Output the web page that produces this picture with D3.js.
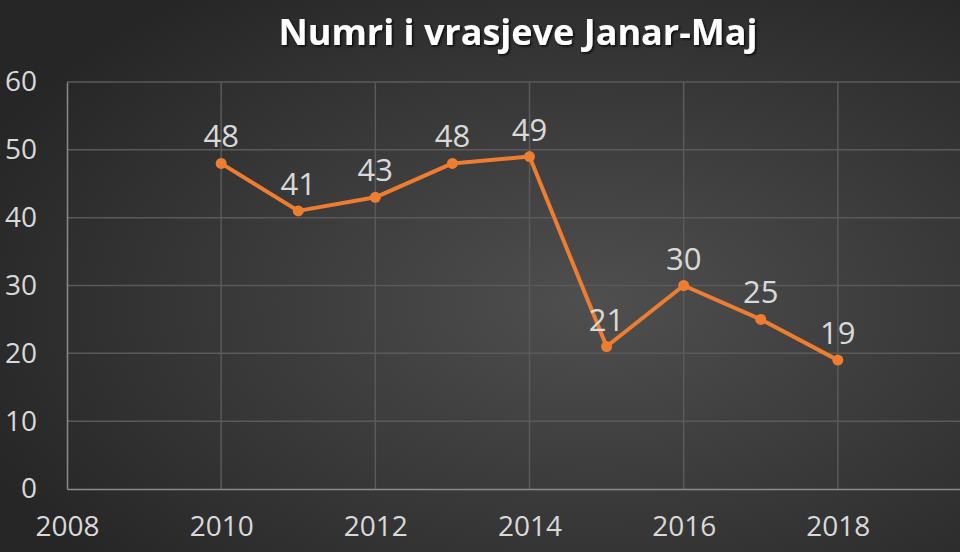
<!DOCTYPE html>
<html>
<head>
<meta charset="utf-8">
<script src="https://cdn.jsdelivr.net/npm/d3@7"></script>
<style>
  body { margin: 0; background: #2b2b2b; }
  svg { display: block; }
</style>
</head>
<body>
<div id="vis"></div>
<script>
// Datos
const years = [2010, 2011, 2012, 2013, 2014, 2015, 2016, 2017, 2018];
const killings = [48, 41, 43, 48, 49, 21, 30, 25, 19];
const xTicks = [2008, 2010, 2012, 2014, 2016, 2018];
const yTicks = [0, 10, 20, 30, 40, 50, 60];
const title = "Numri i vrasjeve Janar-Maj";

const WIDTH = 960;
const HEIGHT = 552;
const margins = { left: 67, top: 82, bottom: 63 };

const SVG = d3.select("#vis")
  .append("svg")
  .attr("width", WIDTH)
  .attr("height", HEIGHT);

// Fondo con degradado radial
const defs = SVG.append("defs");
const grad = defs.append("radialGradient")
  .attr("id", "bg")
  .attr("cx", "62%").attr("cy", "55%").attr("r", "70%");
grad.append("stop").attr("offset", "0%").attr("stop-color", "#4f4f4f");
grad.append("stop").attr("offset", "100%").attr("stop-color", "#262626");

const shadow = defs.append("filter").attr("id", "shadow");
shadow.append("feDropShadow")
  .attr("dx", 1.5).attr("dy", 1.5).attr("stdDeviation", 1.2)
  .attr("flood-color", "#000").attr("flood-opacity", 0.8);

SVG.append("rect")
  .attr("width", WIDTH).attr("height", HEIGHT)
  .attr("fill", "url(#bg)");

// Escalas (el dominio llega a 2020, el gráfico se corta en el borde)
const x = d3.scaleLinear().domain([2008, 2020]).range([margins.left, 992]);
const y = d3.scaleLinear().domain([0, 60]).range([HEIGHT - margins.bottom, margins.top]);

// Grilla
const grid = SVG.append("g");
grid.selectAll(".hgrid")
  .data(yTicks.filter(d => d > 0))
  .join("line")
  .attr("x1", margins.left).attr("x2", WIDTH)
  .attr("y1", d => y(d)).attr("y2", d => y(d))
  .attr("stroke", "#5a5a5a").attr("stroke-width", 1.5);
grid.selectAll(".vgrid")
  .data(xTicks.filter(d => d > 2008))
  .join("line")
  .attr("x1", d => x(d)).attr("x2", d => x(d))
  .attr("y1", y(60)).attr("y2", y(0))
  .attr("stroke", "#5a5a5a").attr("stroke-width", 1.5);

// Ejes
const ejeX = d3.axisBottom(x).tickValues(xTicks).tickFormat(d3.format("d")).tickSize(0).tickPadding(27);
const ejeY = d3.axisLeft(y).tickValues(yTicks).tickSize(0).tickPadding(30);

SVG.append("g")
  .attr("id", "ejeX")
  .attr("transform", `translate(0,${y(0)})`)
  .call(ejeX);
SVG.append("g")
  .attr("id", "ejeY")
  .attr("transform", `translate(${margins.left},0)`)
  .call(ejeY);

SVG.selectAll("#ejeX path, #ejeY path")
  .attr("stroke", "#8a8a8a").attr("stroke-width", 1.5);
SVG.selectAll("#ejeX text, #ejeY text")
  .attr("fill", "#d9d9d9")
  .attr("font-family", "Open Sans")
  .attr("font-size", 28);

// Línea
const line = d3.line()
  .x((d, i) => x(years[i]))
  .y(d => y(d));

SVG.append("path")
  .datum(killings)
  .attr("d", line)
  .attr("fill", "none")
  .attr("stroke", "#ed7d31")
  .attr("stroke-width", 4)
  .attr("stroke-linejoin", "round");

SVG.append("g")
  .selectAll("circle")
  .data(killings)
  .join("circle")
  .attr("cx", (d, i) => x(years[i]))
  .attr("cy", d => y(d))
  .attr("r", 5.5)
  .attr("fill", "#ed7d31");

// Etiquetas de datos
SVG.append("g")
  .selectAll("text")
  .data(killings)
  .join("text")
  .attr("x", (d, i) => x(years[i]))
  .attr("y", d => y(d) - 16)
  .attr("text-anchor", "middle")
  .attr("fill", "#d9d9d9")
  .attr("font-family", "Open Sans")
  .attr("font-size", 31)
  .text(d => d);

// Título
SVG.append("text")
  .attr("x", 518)
  .attr("y", 45)
  .attr("text-anchor", "middle")
  .attr("fill", "#ffffff")
  .attr("font-family", "Open Sans")
  .attr("font-weight", "bold")
  .attr("font-size", 36)
  .attr("filter", "url(#shadow)")
  .text(title);
</script>
</body>
</html>
